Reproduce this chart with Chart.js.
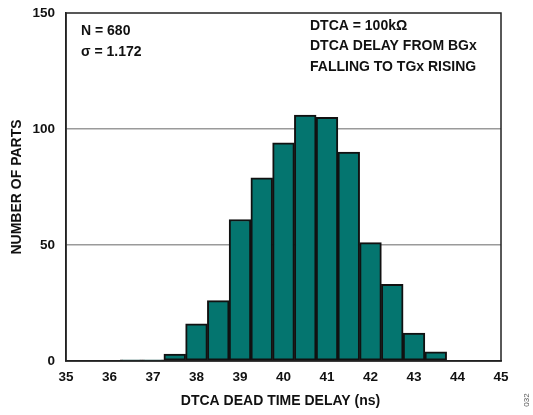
<!DOCTYPE html>
<html>
<head>
<meta charset="utf-8">
<style>
  html, body { margin: 0; padding: 0; background: #fff; }
  #wrap { width: 533px; height: 415px; position: relative; }
</style>
<script src="https://cdn.jsdelivr.net/npm/chart.js@4/dist/chart.umd.min.js"></script>
</head>
<body>
<div id="wrap"><canvas id="c" width="533" height="415"></canvas></div>
<script>
// Histogram bin centres (ns) and part counts per 0.5 ns bin
const binCenters = [36.5, 37.0, 37.5, 38.0, 38.5, 39.0, 39.5, 40.0, 40.5, 41.0, 41.5, 42.0, 42.5, 43.0, 43.5];
const partCounts = [0.5, 0.5, 3, 16, 26, 61, 79, 94, 106, 105, 90, 51, 33, 12, 4];

// Axis tick values
const xTicks = [35, 36, 37, 38, 39, 40, 41, 42, 43, 44, 45];
const yTicks = [0, 50, 100, 150];

// Text labels
const xTitle = 'DTCA DEAD TIME DELAY (ns)';
const yTitle = 'NUMBER OF PARTS';
const statsLines = ['N = 680', '\u03C3 = 1.172'];
const condLines = ['DTCA = 100k\u03A9', 'DTCA DELAY FROM BGx', 'FALLING TO TGx RISING'];
const figId = '032';

const FONT = '"Liberation Sans", Arial, Helvetica, sans-serif';

const textPlugin = {
  id: 'textPlugin',
  afterDraw(chart) {
    const ctx = chart.ctx;
    const a = chart.chartArea;
    ctx.save();
    ctx.fillStyle = '#111';
    ctx.font = 'bold 14px ' + FONT;
    ctx.textBaseline = 'middle';
    ctx.textAlign = 'left';
    statsLines.forEach((t, i) => ctx.fillText(t, a.left + 15, 31 + i * 21));
    condLines.forEach((t, i) => ctx.fillText(t, 310, 26 + i * 20.5));

    // axis titles
    ctx.textAlign = 'center';
    ctx.fillText(xTitle, (a.left + a.right) / 2 - 3, 401);
    ctx.save();
    ctx.translate(17, (a.top + a.bottom) / 2);
    ctx.rotate(-Math.PI / 2);
    ctx.fillText(yTitle, 0, 0);
    ctx.restore();

    // figure number
    ctx.save();
    ctx.fillStyle = '#555';
    ctx.font = '8px ' + FONT;
    ctx.translate(527, 400);
    ctx.rotate(-Math.PI / 2);
    ctx.fillText(figId, 0, 0);
    ctx.restore();

    // plot frame
    ctx.strokeStyle = '#222';
    ctx.lineWidth = 1.5;
    ctx.strokeRect(a.left, a.top, a.right - a.left, a.bottom - a.top);
    ctx.restore();
  }
};

new Chart(document.getElementById('c'), {
  type: 'bar',
  data: {
    datasets: [{
      data: binCenters.map((x, i) => ({ x: x, y: partCounts[i] })),
      backgroundColor: '#04756f',
      borderColor: '#111',
      borderWidth: 2,
      borderSkipped: false,
      barPercentage: 1.0,
      categoryPercentage: 1.0
    }]
  },
  options: {
    responsive: false,
    animation: false,
    devicePixelRatio: 1,
    layout: { padding: { left: 0, right: 32, top: 13, bottom: 0 } },
    plugins: { legend: { display: false }, tooltip: { enabled: false } },
    scales: {
      x: {
        type: 'linear',
        offset: false,
        min: 35,
        max: 45,
        afterBuildTicks(scale) { scale.ticks = xTicks.map(v => ({ value: v })); },
        afterFit(scale) { scale.height = 54; },
        grid: { display: false, drawTicks: false, offset: false },
        border: { display: true, color: '#222', width: 1.5 },
        ticks: {
          padding: 8,
          color: '#111',
          font: { family: FONT, size: 13.5, weight: 'bold' },
          maxRotation: 0,
          autoSkip: false
        }
      },
      y: {
        min: 0,
        max: 150,
        afterBuildTicks(scale) { scale.ticks = yTicks.map(v => ({ value: v })); },
        afterFit(scale) {
          scale.width = 66;
          scale.paddingTop = 0;
          scale.paddingBottom = 0;
        },
        grid: {
          drawTicks: false,
          color: (c) => (c.tick && (c.tick.value === 0 || c.tick.value === 150)) ? 'rgba(0,0,0,0)' : '#9a9a9a',
          lineWidth: 1.5
        },
        border: { display: true, color: '#222', width: 1.5 },
        ticks: {
          padding: 11,
          color: '#111',
          font: { family: FONT, size: 13.5, weight: 'bold' }
        }
      }
    }
  },
  plugins: [textPlugin]
});
</script>
</body>
</html>
